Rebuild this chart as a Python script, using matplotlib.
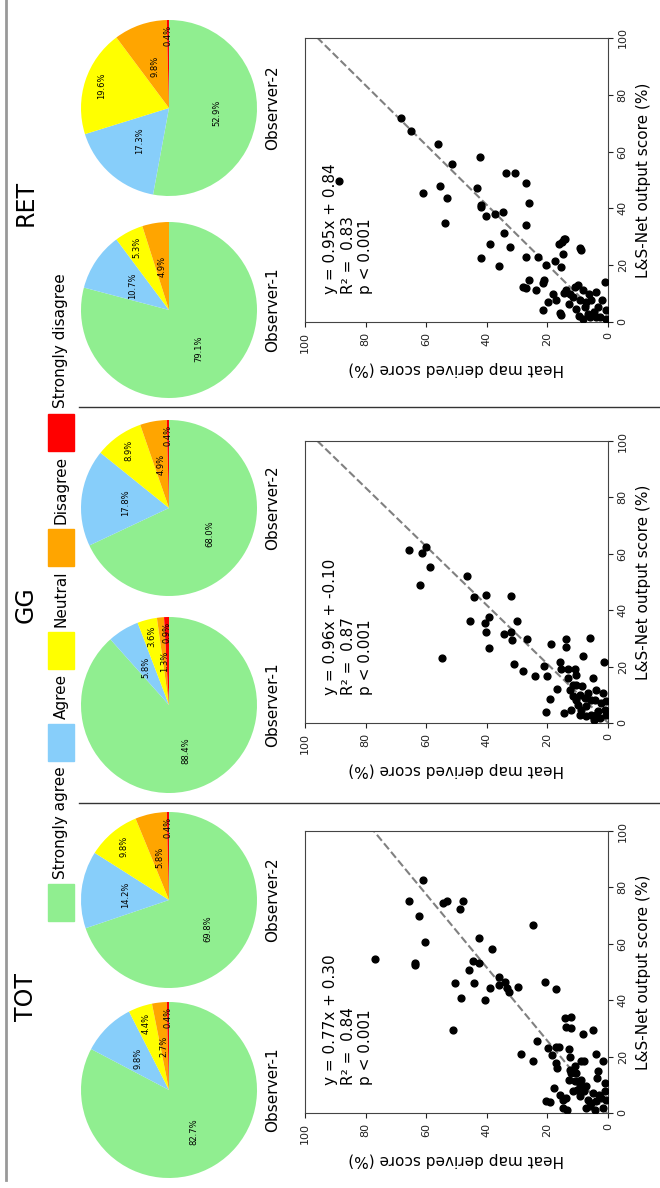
import matplotlib
matplotlib.use("Agg")
import matplotlib.pyplot as plt
from matplotlib.lines import Line2D
from matplotlib.patches import Rectangle
import numpy as np

# figure is drawn "turned on its side": everything reads bottom-to-top
W, H = 660, 1188

categories = ["Strongly agree", "Agree", "Neutral", "Disagree", "Strongly disagree"]
colors = ["#90EE90", "#87CEFA", "#FFFF00", "#FFA500", "#FF0000"]
panels = ["TOT", "GG", "RET"]

# pie values (%) per observer
tot_obs1 = [82.7, 9.8, 4.4, 2.7, 0.4]
tot_obs2 = [69.8, 14.2, 9.8, 5.8, 0.4]
gg_obs1 = [88.4, 5.8, 3.6, 1.3, 0.9]
gg_obs2 = [68.0, 17.8, 8.9, 4.9, 0.4]
ret_obs1 = [79.1, 10.7, 5.3, 4.9, 0.0]
ret_obs2 = [52.9, 17.3, 19.6, 9.8, 0.4]

# scatter: L&S-Net output score vs heat map derived score (%)
tot_ls = [54.7, 82.6, 75.2, 70.0, 60.6, 53.1, 52.5, 74.4, 75.2, 75.2, 72.4, 46.0,
          40.7, 29.5, 50.8, 54.0, 46.0, 53.1, 61.9, 58.1, 39.9, 44.3, 48.4, 45.5,
          46.6, 44.3, 42.9, 44.6, 66.5, 46.6, 43.9, 21.0, 25.4, 18.5, 4.4, 3.8,
          23.0, 23.3, 23.3, 20.7, 17.7, 15.9, 8.9, 33.6, 33.9, 30.5, 30.1, 28.1,
          29.5, 22.7, 19.8, 18.3, 18.3, 21.0, 18.3, 6.5, 4.7, 1.2, 1.8, 11.8,
          14.2, 11.2, 8.3, 7.7, 10.0, 11.8, 7.7, 9.4, 4.7, 2.4, 3.5, 7.1,
          4.1, 12.4, 14.8, 6.5, 5.3, 1.8, 10.6, 7.7, 4.7, 1.8, 5.9, 14.2,
          16.5, 15.3, 1.2, 5.3]
tot_heat = [76.9, 61.2, 65.7, 62.4, 60.3, 63.7, 63.7, 54.6, 53.3, 48.0, 48.9, 50.5,
            48.4, 51.3, 45.8, 44.7, 44.2, 42.6, 42.6, 38.2, 40.7, 38.9, 36.0, 36.0,
            34.1, 33.3, 32.6, 29.8, 24.9, 20.9, 17.0, 28.8, 23.5, 24.7, 20.3, 19.2,
            19.7, 17.0, 16.2, 18.4, 17.0, 16.8, 17.8, 14.3, 12.3, 13.7, 12.1, 8.2,
            4.9, 12.9, 12.4, 8.8, 8.0, 3.8, 1.6, 15.9, 14.8, 13.5, 14.8, 12.9,
            12.1, 11.0, 10.2, 11.5, 9.3, 8.8, 8.0, 7.1, 6.6, 6.0, 5.5, 4.9,
            4.1, 3.6, 3.3, 3.0, 2.2, 1.6, 1.1, 1.1, 0.5, 7.4, 9.3, 10.4,
            11.0, 12.6, 4.4, 13.7]

gg_ls = [61.3, 60.4, 62.3, 55.2, 48.8, 23.2, 52.2, 44.8, 45.4, 36.0, 35.4, 32.4,
         37.7, 26.5, 31.6, 45.0, 32.4, 29.5, 36.0, 29.8, 20.9, 18.5, 16.7, 20.3,
         16.7, 27.9, 3.9, 8.6, 12.0, 21.8, 19.1, 29.8, 26.9, 3.5, 19.1, 15.9,
         11.8, 9.7, 4.7, 19.1, 17.1, 13.6, 6.5, 2.9, 13.0, 23.8, 8.8, 5.9,
         10.8, 30.1, 2.9, 15.9, 8.3, 11.8, 4.1, 1.8, 7.1, 10.6, 21.8, 4.7,
         7.7, 2.9, 4.7, 8.3, 2.4, 1.2, 10.0, 13.6, 8.3, 2.9]
gg_heat = [65.6, 61.3, 60.1, 58.6, 61.9, 54.9, 46.4, 44.3, 40.3, 45.4, 40.7, 40.1,
           39.3, 39.2, 34.4, 32.1, 31.9, 31.6, 30.1, 26.6, 31.0, 28.2, 24.0, 21.2,
           20.0, 18.7, 20.5, 19.0, 16.7, 15.7, 15.4, 14.0, 13.7, 14.6, 13.2, 13.2,
           12.6, 11.5, 12.1, 11.0, 10.4, 10.7, 9.9, 9.3, 8.5, 8.2, 7.7, 7.1,
           6.6, 6.0, 5.5, 4.9, 4.4, 4.1, 3.3, 2.7, 2.2, 1.6, 1.4, 1.1,
           0.5, 0.8, 8.8, 10.4, 7.1, 4.7, 9.3, 11.5, 5.5, 3.8]

ret_ls = [49.6, 71.8, 67.1, 62.7, 45.3, 48.0, 55.5, 43.5, 34.9, 58.0, 47.3, 41.2,
          40.6, 37.3, 52.4, 52.4, 49.1, 42.0, 34.1, 38.6, 38.2, 31.5, 27.6, 22.4,
          19.6, 26.5, 22.9, 22.9, 19.9, 21.4, 27.6, 29.1, 29.4, 28.0, 24.1, 19.4,
          25.9, 25.3, 12.4, 12.1, 14.9, 11.2, 13.8, 14.7, 4.1, 7.1, 10.0, 7.9,
          3.2, 2.4, 10.2, 11.4, 6.5, 8.8, 12.4, 12.9, 2.0, 7.6, 11.2, 5.3,
          2.9, 9.8, 7.6, 3.5, 10.6, 5.3, 1.8, 7.6, 14.1, 4.1, 1.2, 1.2,
          4.7, 7.1, 1.8, 1.8, 10.0]
ret_heat = [88.8, 68.4, 65.1, 56.0, 61.0, 55.5, 51.6, 53.3, 53.7, 42.3, 43.1, 42.0,
            41.8, 40.4, 33.8, 30.7, 26.9, 26.0, 27.1, 34.8, 37.4, 34.4, 39.0, 42.0,
            36.0, 32.3, 27.1, 23.2, 20.3, 17.6, 16.2, 14.6, 14.2, 15.2, 15.0, 15.4,
            9.1, 8.9, 28.0, 26.9, 26.0, 23.6, 21.6, 21.1, 21.4, 19.8, 18.1, 17.0,
            15.7, 15.6, 14.6, 13.7, 12.9, 11.5, 11.0, 9.9, 9.6, 9.3, 8.2, 7.7,
            6.6, 6.3, 5.5, 4.7, 4.1, 3.3, 2.5, 1.9, 1.1, 0.8, 0.5, 8.2,
            10.4, 7.1, 3.8, 6.0, 12.6]

# regression fits: heat = slope * ls + intercept
fit_slope = [0.77, 0.96, 0.95]
fit_intercept = [0.30, -0.10, 0.84]
fit_r2 = [0.84, 0.87, 0.83]


def fx(x):
    return x / W


def fy(y):
    return 1 - y / H


def draw_pie(cy, values, label):
    ax = fig.add_axes([fx(169 - 90), fy(cy + 90), 180 / W, 180 / H])
    wedges, _, autotexts = ax.pie(
        values, colors=colors, startangle=90, counterclock=False,
        autopct=lambda p: f"{p:.1f}%" if p > 0 else "",
        textprops=dict(fontsize=6, rotation=90),
    )
    # small slices get their labels pushed further out
    dist = [0.55, 0.5, 0.8, 0.5, 0.83]
    for i, (w, t) in enumerate(zip(wedges, autotexts)):
        ang = np.deg2rad((w.theta1 + w.theta2) / 2)
        t.set_position((dist[i] * np.cos(ang), dist[i] * np.sin(ang)))
    ax.set_xlim(-90 / 88, 90 / 88)
    ax.set_ylim(-90 / 88, 90 / 88)
    ax.set_aspect("equal")
    ax.axis("off")
    fig.text(fx(273), fy(cy), label, rotation=90, ha="center", va="center", fontsize=11)


def draw_scatter(top, bottom, heat, ls, k):
    ax = fig.add_axes([fx(305), fy(bottom), 303 / W, (bottom - top) / H])
    ax.scatter(heat, ls, s=24, color="black", zorder=3)
    line_ls = np.array([0, 100])
    ax.plot(fit_slope[k] * line_ls + fit_intercept[k], line_ls,
            ls="--", color="gray", lw=1.5, zorder=2)
    ax.set_xlim(100, 0)
    ax.set_ylim(0, 100)
    ax.set_xticks(range(0, 101, 20))
    ax.set_yticks(range(0, 101, 20))
    ax.yaxis.tick_right()
    ax.yaxis.set_label_position("right")
    ax.tick_params(labelsize=8, colors="#222")
    for lab in ax.get_xticklabels():
        lab.set_rotation(90)
    for lab in ax.get_yticklabels():
        lab.set_rotation(90)
        lab.set_va("center")
    for sp in ax.spines.values():
        sp.set_color("#444")
    ax.set_xlabel("Heat map derived score (%)", fontsize=11, rotation=180, labelpad=6)
    ax.set_ylabel("L&S-Net output score (%)", fontsize=11, rotation=90, labelpad=6)
    ax.text(0.06, 0.1,
            f"y = {fit_slope[k]:.2f}x + {fit_intercept[k]:.2f}\n"
            f"R² =  {fit_r2[k]:.2f}\np < 0.001",
            transform=ax.transAxes, rotation=90, ha="left", va="bottom",
            fontsize=11, multialignment="left", linespacing=1.2)


fig = plt.figure(figsize=(W / 100, H / 100), dpi=100)

pies = [(tot_obs1, tot_obs2), (gg_obs1, gg_obs2), (ret_obs1, ret_obs2)]
pie_y = [(1090, 900), (705, 508), (310, 108)]
title_y = [997, 605, 203]
scatter_box = [(831, 1113), (441, 723), (38, 322)]
scatter_data = [(tot_heat, tot_ls), (gg_heat, gg_ls), (ret_heat, ret_ls)]

for k, name in enumerate(panels):
    fig.text(fx(26), fy(title_y[k]), name, rotation=90, ha="center", va="center", fontsize=17)
    draw_pie(pie_y[k][0], pies[k][0], "Observer-1")
    draw_pie(pie_y[k][1], pies[k][1], "Observer-2")
    draw_scatter(scatter_box[k][0], scatter_box[k][1], *scatter_data[k], k)

# separators and border
for y in [407, 803]:
    fig.add_artist(Line2D([fx(79), 1], [fy(y), fy(y)], color="#333", lw=1))
fig.add_artist(Line2D([fx(6), fx(6)], [fy(0), fy(1180)], color="#999", lw=2))

# legend, laid out bottom-to-top
renderer = fig.canvas.get_renderer()
y_cur = 921
for name, col in zip(categories, colors):
    fig.add_artist(Rectangle((fx(48), fy(y_cur)), 26 / W, 37 / H,
                             transform=fig.transFigure, color=col))
    y_cur -= 37 + 5
    t = fig.text(fx(61), fy(y_cur), name, rotation=90, ha="center", va="bottom", fontsize=11)
    ext = t.get_window_extent(renderer)
    y_cur -= ext.height + 5

fig.savefig("out.png", dpi=100)
